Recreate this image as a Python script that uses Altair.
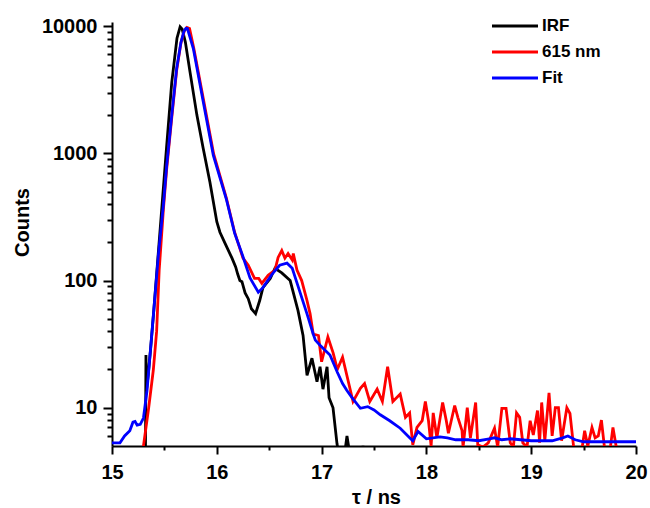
import altair as alt
import pandas as pd

# Instrument response function (IRF)
irf_t = [15.0, 15.3, 15.318, 15.324, 15.33, 15.345, 15.37, 15.40, 15.46, 15.52, 15.57,
         15.62, 15.65, 15.67, 15.70, 15.745, 15.81, 15.87, 15.935, 16.0, 16.03, 16.08,
         16.145, 16.18, 16.2, 16.22, 16.24, 16.27, 16.3, 16.33, 16.37, 16.41, 16.44,
         16.51, 16.555, 16.62, 16.70, 16.775, 16.823, 16.861, 16.908, 16.956, 16.985,
         17.013, 17.052, 17.071, 17.109, 17.147, 17.176, 17.214, 17.242, 17.28, 17.366,
         17.395, 17.424, 17.6, 20.0]
irf_v = [2, 2, 3, 26, 14, 18, 30, 60, 256, 1100, 3600,
         8050, 9900, 9500, 7500, 4340, 2000, 1100, 590, 290, 240, 195,
         150, 128, 112, 100, 98, 80, 72, 60, 55, 70, 88,
         104, 125, 115, 100, 58, 37, 18, 24.5, 16, 21,
         14, 21, 12, 10, 5.2, 3.8, 4, 6, 3.8, 4,
         5, 3.8, 3, 3]

# Emission decay at 615 nm
em_t = [15.0, 15.28, 15.3, 15.35, 15.394, 15.426, 15.45, 15.49, 15.522, 15.57, 15.617,
        15.658, 15.69, 15.715, 15.74, 15.78, 15.875, 15.97, 16.09, 16.17, 16.25,
        16.3, 16.36, 16.4, 16.43, 16.49, 16.555, 16.585, 16.62, 16.65, 16.68, 16.72,
        16.73, 16.765, 16.81, 16.86, 16.89, 16.92, 16.97, 17.0, 17.06, 17.11, 17.15,
        17.2, 17.3, 17.37, 17.41, 17.46, 17.53, 17.58, 17.63, 17.68, 17.75, 17.8,
        17.84, 17.87, 17.91, 17.96, 17.99, 18.02, 18.045, 18.065, 18.1, 18.155, 18.19,
        18.21, 18.27, 18.3, 18.34, 18.35, 18.39, 18.42, 18.47, 18.49, 18.54, 18.59,
        18.65, 18.68, 18.72, 18.76, 18.8, 18.83, 18.86, 18.89, 18.92, 18.96, 18.99,
        19.02, 19.06, 19.08, 19.1, 19.13, 19.17, 19.2, 19.23, 19.26, 19.29, 19.34,
        19.37, 19.41, 19.48, 19.51, 19.54, 19.58, 19.61, 19.64, 19.67, 19.7, 19.75,
        19.78, 19.81, 19.85, 20.0]
em_v = [2, 2, 5, 10, 19.7, 40, 120, 360, 760, 1900, 4500,
        7400, 9200, 9800, 9600, 6750, 2600, 990, 450, 240, 150,
        132, 104, 104, 95, 110, 121, 152, 172, 150, 163, 145,
        163, 121, 100, 70, 55, 38, 37, 23, 36, 27, 20,
        25, 11.2, 14.2, 15.5, 11.2, 14, 11.2, 21, 11.2, 12.8, 8.4,
        9.1, 5.1, 7.0, 7.9, 11.2, 7.9, 5, 9.1, 5.8, 11, 7.9,
        6.3, 10.4, 8.4, 6.6, 4.9, 10, 5.8, 11, 5.1, 4.9, 5.3,
        6.9, 4.9, 9.9, 9.9, 5.3, 4.9, 9.1, 8.4, 5.3, 4.9, 7.9,
        6.1, 9.5, 5.3, 11, 5.5, 13.1, 6, 10, 10, 5.5, 10,
        9, 4.5, 4.5, 6.6, 5, 7, 5.8, 6, 8, 4.8, 4.5,
        7, 5, 4.5, 4.5]

# Reconvolution fit
fit_t = [15.0, 15.076, 15.12, 15.17, 15.2, 15.22, 15.24, 15.27, 15.3, 15.334, 15.388,
         15.442, 15.49, 15.522, 15.57, 15.617, 15.658, 15.687, 15.706, 15.72, 15.776,
         15.871, 15.967, 16.09, 16.17, 16.24, 16.317, 16.396, 16.44, 16.53, 16.6,
         16.67, 16.72, 16.765, 16.86, 16.92, 16.94, 16.985, 17.08, 17.15, 17.2, 17.24,
         17.29, 17.37, 17.44, 17.5, 17.56, 17.65, 17.75, 17.84, 17.87, 17.92, 18.0,
         18.13, 18.2, 18.28, 18.4, 18.5, 18.6, 18.65, 18.72, 18.8, 18.9, 19.0,
         19.2, 19.3, 19.35, 19.42, 19.5, 20.0]
fit_v = [5.3, 5.3, 6.0, 6.6, 7.7, 7.8, 7.3, 7.4, 8.3, 13.6, 45.7,
         157, 390, 805, 1990, 4670, 7480, 9140, 9640, 9600, 6670,
         2540, 964, 440, 236, 163, 105, 81, 88, 113, 132,
         137, 125, 96, 55, 38, 34, 31, 26, 19, 15.5, 13.7,
         12, 9.9, 10.2, 9.6, 8.8, 7.9, 6.9, 5.8, 5.5, 6.5, 5.7,
         5.9, 5.8, 5.6, 5.6, 5.5, 5.7, 5.8, 5.6, 5.7, 5.6, 5.5,
         5.5, 5.8, 6.0, 5.6, 5.4, 5.4]

series_names = ["IRF", "615 nm", "Fit"]
series_colors = ["#000000", "#ff0000", "#0000ff"]

y_major = [10, 100, 1000, 10000]
y_ticks = [6, 7, 8, 9] + [m * d for d in (10, 100, 1000) for m in range(1, 10)] + [10000]
x_ticks = [15 + 0.5 * i for i in range(11)]

FONT = "Liberation Sans"

frames = []
for name, ts, vs in zip(series_names, (irf_t, em_t, fit_t), (irf_v, em_v, fit_v)):
    frames.append(pd.DataFrame({"t": ts, "counts": vs, "series": name, "order": range(len(ts))}))
data = pd.concat(frames, ignore_index=True)

color = alt.Color(
    "series:N",
    scale=alt.Scale(domain=series_names, range=series_colors),
    legend=alt.Legend(
        title=None,
        orient="none",
        legendX=390,
        legendY=-9,
        symbolType="M-2,0H2",
        symbolSize=529,
        symbolStrokeWidth=3,
        labelFont=FONT,
        labelFontSize=17,
        labelFontWeight="bold",
        labelColor="black",
        labelOffset=14,
        rowPadding=5,
        padding=0,
    ),
)

x_enc = alt.X(
    "t:Q",
    scale=alt.Scale(domain=[15, 20], nice=False),
    axis=alt.Axis(
        title="τ / ns",
        values=x_ticks,
        labelExpr="datum.value % 1 == 0 ? format(datum.value, 'd') : ''",
        tickSize={"condition": {"test": "datum.value % 1 == 0", "value": 8}, "value": 4},
        labelPadding=8,
        titleX=264,
        titleY=57,
        titleBaseline="alphabetic",
        titleAlign="center",
    ),
)
y_enc = alt.Y(
    "counts:Q",
    scale=alt.Scale(type="log", domain=[5, 10800], nice=False),
    axis=alt.Axis(
        title="Counts",
        values=y_ticks,
        labelExpr="indexof([10, 100, 1000, 10000], datum.value) >= 0 ? format(datum.value, 'd') : ''",
        tickSize={"condition": {"test": "indexof([10, 100, 1000, 10000], datum.value) >= 0", "value": 9}, "value": 5},
        labelPadding=6,
        titleAngle=-90,
        titleX=-90,
        titleY=200,
        titleAlign="center",
        titleBaseline="middle",
    ),
)

layers = []
for name in series_names:
    layers.append(
        alt.Chart(data)
        .transform_filter(alt.datum.series == name)
        .mark_line(strokeWidth=2.8, clip=True)
        .encode(x=x_enc, y=y_enc, color=color, order="order:Q")
    )

chart = (
    alt.layer(*layers)
    .properties(
        width=524,
        height=424,
        padding={"left": 112, "top": 22, "right": 14, "bottom": 62},
        autosize=alt.AutoSizeParams(type="none"),
        background="white",
    )
    .configure_view(stroke=None)
    .configure_axis(
        grid=False,
        domainColor="black",
        domainWidth=2,
        tickColor="black",
        tickWidth=2,
        labelFont=FONT,
        labelFontSize=20,
        labelFontWeight="bold",
        labelColor="black",
        labelOverlap=False,
        labelFlush=False,
        titleFont=FONT,
        titleFontSize=20,
        titleFontWeight="bold",
        titleColor="black",
    )
)

chart.save("out.html", embed_options={"renderer": "svg", "actions": False})
